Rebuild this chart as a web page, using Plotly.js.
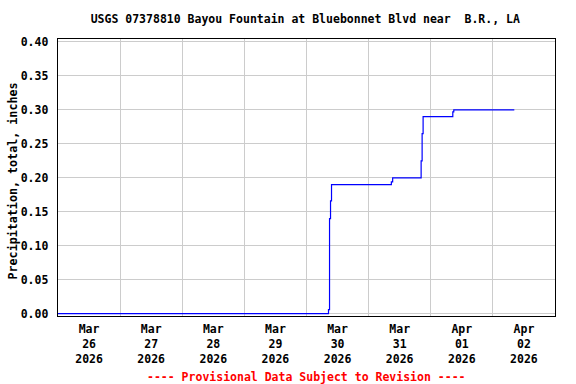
<!DOCTYPE html>
<html><head><meta charset="utf-8">
<script src="https://cdn.plot.ly/plotly-3.0.1.min.js"></script>
<style>body{margin:0;background:#fff}#c{width:576px;height:384px}</style>
</head><body><div id="c"></div>
<script>
// Cumulative precipitation (inches)
const times = [
  "2026-03-26 00:00", "2026-03-30 08:15", "2026-03-30 08:30", "2026-03-30 08:54",
  "2026-03-30 09:17", "2026-03-30 09:40", "2026-03-31 08:47", "2026-03-31 09:17",
  "2026-03-31 20:17", "2026-03-31 20:40", "2026-03-31 21:03", "2026-04-01 08:31",
  "2026-04-01 08:54", "2026-04-02 08:17"
];
const precip = [0.00, 0.00, 0.006, 0.14, 0.166, 0.19, 0.194, 0.20, 0.225, 0.265, 0.29, 0.297, 0.30, 0.30];

const dayTickVals = ["2026-03-26 12:00","2026-03-27 12:00","2026-03-28 12:00","2026-03-29 12:00",
  "2026-03-30 12:00","2026-03-31 12:00","2026-04-01 12:00","2026-04-02 12:00"];
const dayTickText = ["Mar<br>26<br>2026","Mar<br>27<br>2026","Mar<br>28<br>2026","Mar<br>29<br>2026",
  "Mar<br>30<br>2026","Mar<br>31<br>2026","Apr<br>01<br>2026","Apr<br>02<br>2026"];
const yTicks = [0, 0.05, 0.10, 0.15, 0.20, 0.25, 0.30, 0.35, 0.40];

const font = "DejaVu Sans Mono, monospace";
Plotly.newPlot("c", [{
  x: times, y: precip, type: "scatter", mode: "lines",
  line: {color: "#0000ff", width: 1.2, shape: "hv"}, hoverinfo: "skip"
}], {
  width: 576, height: 384,
  margin: {l: 58, r: 21, t: 39, b: 68, pad: 0},
  paper_bgcolor: "#fff", plot_bgcolor: "#fff",
  showlegend: false,
  font: {family: font, color: "#000", size: 11.5, weight: "bold"},
  title: {text: "USGS 07378810 Bayou Fountain at Bluebonnet Blvd near\u00A0 B.R., LA",
    font: {family: font, size: 11.5, color: "#000", weight: "bold"},
    x: 0.53, xanchor: "center", y: 0.95, yanchor: "middle"},
  xaxis: {
    type: "date", range: ["2026-03-26 00:00", "2026-04-03 00:00"],
    tickmode: "array", tickvals: dayTickVals, ticktext: dayTickText,
    showgrid: false, ticks: "", ticklabelstandoff: 2,
    tickfont: {family: font, size: 11.5, color: "#000", weight: "bold"},
    minor: {tickmode: "linear", tick0: "2026-03-26", dtick: 86400000, showgrid: true,
      gridcolor: "#cccccc", gridwidth: 1, ticks: ""},
    showline: true, mirror: true, linecolor: "#000", linewidth: 1.3, zeroline: false
  },
  yaxis: {
    range: [-0.0035, 0.4044], tickmode: "array", tickvals: yTicks,
    ticktext: yTicks.map(v => v.toFixed(2)),
    showgrid: true, gridcolor: "#cccccc", gridwidth: 1, ticks: "", ticklabelstandoff: 6,
    tickfont: {family: font, size: 11.5, color: "#000", weight: "bold"},
    showline: true, mirror: true, linecolor: "#000", linewidth: 1.3, zeroline: false
  },
  annotations: [{
    text: "Precipitation, total, inches", xref: "paper", yref: "paper",
    x: -46 / 497, y: 1 - (181.5 - 39) / 277, xanchor: "center", yanchor: "middle",
    textangle: -90, showarrow: false,
    font: {family: font, size: 11.7, color: "#000", weight: "bold"}
  }, {
    text: "---- Provisional Data Subject to Revision ----", xref: "paper", yref: "paper",
    x: 0.5, y: -(377 - 316) / 277, xanchor: "center", yanchor: "middle", showarrow: false,
    font: {family: font, size: 11.5, color: "#ff0000", weight: "bold"}
  }]
}, {staticPlot: true, displayModeBar: false});
</script></body></html>
